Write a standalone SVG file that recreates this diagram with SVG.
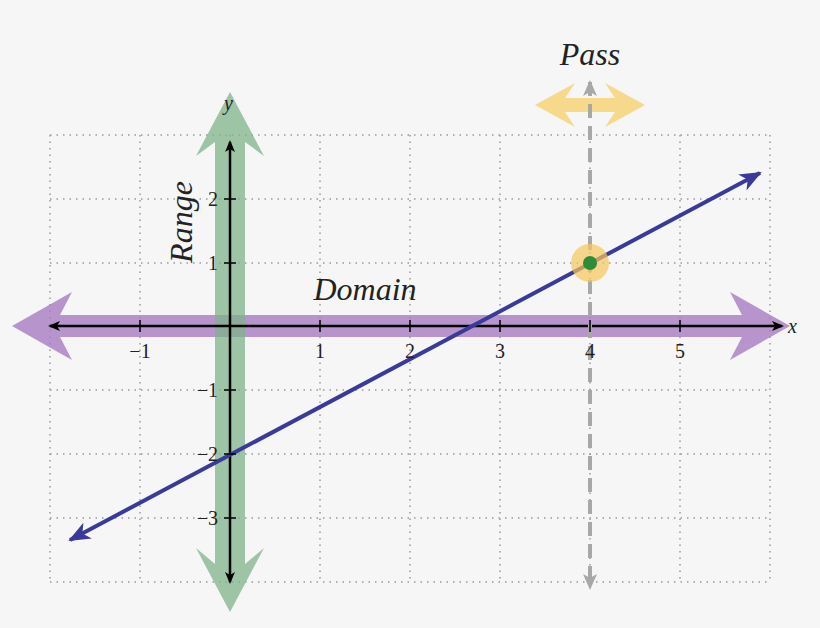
<svg xmlns="http://www.w3.org/2000/svg" width="820" height="628" viewBox="0 0 820 628">
<style>
.g{stroke:#999;stroke-width:1.5;stroke-dasharray:1.5 5;fill:none}
.t{font-family:"Liberation Serif",serif;font-size:20px;fill:#222}
.i{font-family:"Liberation Serif",serif;font-style:italic;fill:#222}
</style>
<defs>
<marker id="ab" viewBox="0 0 12 10" refX="10" refY="5" markerWidth="12" markerHeight="10" markerUnits="userSpaceOnUse" orient="auto-start-reverse"><path d="M0,0 L12,5 L0,10 L3,5 Z" fill="#000"/></marker>
<marker id="ap" viewBox="0 0 22 18" refX="20" refY="9" markerWidth="22" markerHeight="18" markerUnits="userSpaceOnUse" orient="auto-start-reverse"><path d="M0,0 L22,9 L0,18 L6,9 Z" fill="#3a3a9a"/></marker>
<marker id="ag" viewBox="0 0 16 14" refX="14" refY="7" markerWidth="16" markerHeight="14" markerUnits="userSpaceOnUse" orient="auto-start-reverse"><path d="M0,0 L16,7 L0,14 L4,7 Z" fill="#a8a8a8"/></marker>
</defs>
<rect width="820" height="628" fill="#f6f6f6"/>
<g id="grid">
<path class="g" d="M50,135V582M140,135V582M230,135V582M320,135V582M410,135V582M500,135V582M590,135V582M680,135V582M770,135V582"/>
<path class="g" d="M50,135H770M50,199H770M50,263H770M50,326H770M50,390H770M50,454H770M50,518H770M50,582H770"/>
</g>
<g id="domain"><path d="M12,326L72,292L60,315H742L730,292L790,326L730,360L742,337H60L72,360Z" fill="#a77cc0" fill-opacity="0.8"/></g>
<g id="range"><path d="M230,92L264,156L245,142V564L264,548L230,612L196,548L215,564V142L196,156Z" fill="#7fb38a" fill-opacity="0.75"/></g>
<g id="pass"><path d="M535,105L575,83L565,98H615L605,83L645,105L605,127L615,112H565L575,127Z" fill="#f6d98a"/></g>
<g id="connectors">
<path d="M50,326H782" stroke="#000" stroke-width="2.5" fill="none" marker-start="url(#ab)" marker-end="url(#ab)"/>
<path d="M230,142V582" stroke="#000" stroke-width="2.5" fill="none" marker-start="url(#ab)" marker-end="url(#ab)"/>
<path d="M590,82V588" stroke="#a8a8a8" stroke-width="4" stroke-dasharray="14 8" fill="none" marker-start="url(#ag)" marker-end="url(#ag)"/>
<path d="M70,540L760,173" stroke="#3a3a9a" stroke-width="4" fill="none" marker-start="url(#ap)" marker-end="url(#ap)"/>
<path d="M140,320V332M320,320V332M410,320V332M500,320V332M590,320V332M680,320V332M224,199H236M224,263H236M224,390H236M224,454H236M224,518H236" stroke="#000" stroke-width="1.5"/>
</g>
<g id="point"><circle cx="590" cy="263" r="19" fill="#f6c85a" fill-opacity="0.7"/><circle cx="590" cy="263" r="7" fill="#2e8b3a"/></g>
<g id="labels">
<text class="t" x="140" y="358" text-anchor="middle">−1</text>
<text class="t" x="320" y="358" text-anchor="middle">1</text>
<text class="t" x="410" y="358" text-anchor="middle">2</text>
<text class="t" x="500" y="358" text-anchor="middle">3</text>
<text class="t" x="590" y="358" text-anchor="middle">4</text>
<text class="t" x="680" y="358" text-anchor="middle">5</text>
<text class="t" x="218" y="206" text-anchor="end">2</text>
<text class="t" x="218" y="270" text-anchor="end">1</text>
<text class="t" x="218" y="397" text-anchor="end">−1</text>
<text class="t" x="218" y="461" text-anchor="end">−2</text>
<text class="t" x="218" y="525" text-anchor="end">−3</text>
<text class="i" x="788" y="333" font-size="20">x</text>
<text class="i" x="224" y="110" font-size="20">y</text>
<text class="i" x="365" y="300" font-size="32" text-anchor="middle">Domain</text>
<text class="i" x="590" y="65" font-size="32" text-anchor="middle">Pass</text>
<text class="i" x="0" y="0" font-size="32" text-anchor="middle" transform="translate(192,222) rotate(-90)">Range</text>
</g>
</svg>
